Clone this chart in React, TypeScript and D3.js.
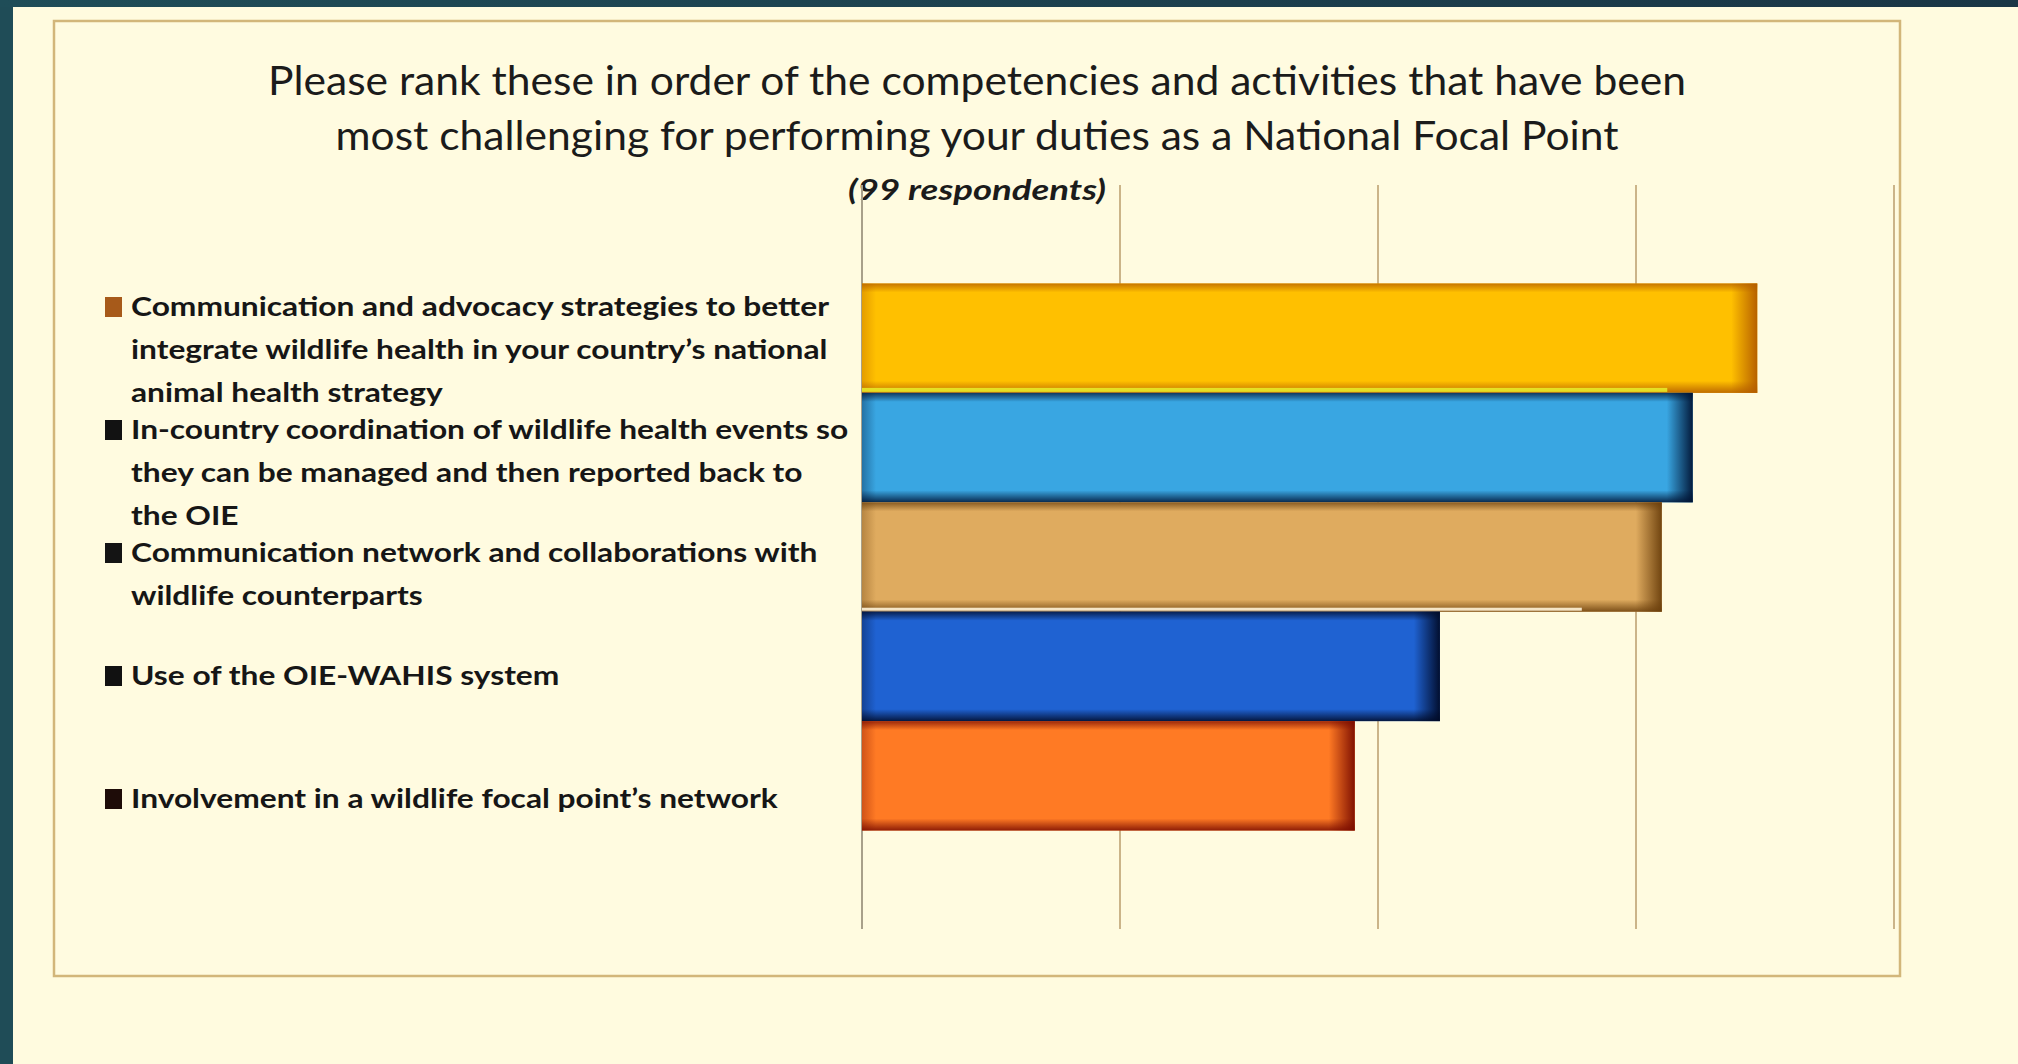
import * as React from "react";
import * as d3 from "d3";

const TITLE_LINES = [
  "Please rank these in order of the competencies and activities that have been",
  "most challenging for performing your duties as a National Focal Point",
];
const SUBTITLE = "(99 respondents)";

const CATEGORIES = [
  "Communication and advocacy strategies",
  "In-country coordination",
  "Communication network",
  "Use of the OIE-WAHIS system",
  "Involvement in a wildlife focal point's network",
];

const LEGEND_LINES = [
  [
    "Communication and advocacy strategies to better",
    "integrate wildlife health in your country\u2019s national",
    "animal health strategy",
  ],
  [
    "In-country coordination of wildlife health events so",
    "they can be managed and then reported back to",
    "the OIE",
  ],
  ["Communication network and collaborations with", "wildlife counterparts"],
  ["Use of the OIE-WAHIS system"],
  ["Involvement in a wildlife focal point\u2019s network"],
];

// bar lengths in gridline units (no tick labels in the original)
const VALUES = [3.47, 3.22, 3.1, 2.24, 1.91];
const X_TICKS = [0, 1, 2, 3, 4];

const BAR_COLORS = ["#ffc000", "#39a6e2", "#dfab5f", "#1f62d2", "#ff7a24"];
const EDGE_COLORS = ["#b35c00", "#001333", "#6b3f0c", "#000a26", "#7a0c00"];
const SWATCH_COLORS = ["#a75a1a", "#121212", "#141414", "#111111", "#1e0c08"];

const W = 2018;
const H = 1064;
const BOX = { x: 54, y: 21, w: 1846, h: 955 };
const PLOT = { left: 862, right: 1894, top: 185, bottom: 929 };

export default function App() {
  const x = d3.scaleLinear().domain([0, 4]).range([PLOT.left, PLOT.right]);
  const y = d3
    .scaleBand<string>()
    .domain(CATEGORIES)
    .range([PLOT.top, PLOT.bottom])
    .paddingInner(0)
    .paddingOuter(0.9);
  const bh = y.bandwidth();

  return (
    <svg
      width={W}
      height={H}
      style={{ position: "fixed", left: 0, top: 0 }}
      fontFamily="Lato, 'Noto Sans', sans-serif"
    >
      <defs>
        <linearGradient id="topband" x1="0" x2="1" y1="0" y2="0">
          <stop offset="0" stopColor="#1f4d58" />
          <stop offset="1" stopColor="#1a3646" />
        </linearGradient>
        {EDGE_COLORS.map((c, i) => (
          <React.Fragment key={i}>
            <linearGradient id={`top-${i}`} x1="0" x2="0" y1="0" y2="1">
              <stop offset="0" stopColor={c} stopOpacity={0.75} />
              <stop offset="1" stopColor={c} stopOpacity={0} />
            </linearGradient>
            <linearGradient id={`bot-${i}`} x1="0" x2="0" y1="0" y2="1">
              <stop offset="0" stopColor={c} stopOpacity={0} />
              <stop offset="1" stopColor={c} stopOpacity={0.85} />
            </linearGradient>
            <linearGradient id={`right-${i}`} x1="0" x2="1" y1="0" y2="0">
              <stop offset="0" stopColor={c} stopOpacity={0} />
              <stop offset="1" stopColor={c} stopOpacity={0.95} />
            </linearGradient>
            <linearGradient id={`left-${i}`} x1="0" x2="1" y1="0" y2="0">
              <stop offset="0" stopColor={c} stopOpacity={0.35} />
              <stop offset="1" stopColor={c} stopOpacity={0} />
            </linearGradient>
          </React.Fragment>
        ))}
      </defs>

      {/* slide background */}
      <rect width={W} height={H} fill="#fffbdf" />
      <rect width={13} height={H} fill="#1f4c57" />
      <rect width={W} height={7} fill="url(#topband)" />

      {/* chart frame */}
      <rect
        x={BOX.x}
        y={BOX.y}
        width={BOX.w}
        height={BOX.h}
        fill="#fffbe0"
        stroke="#d2b67a"
        strokeWidth={2.5}
      />

      {/* title */}
      {TITLE_LINES.map((line, i) => (
        <text
          key={line}
          x={977}
          y={95 + i * 55}
          textAnchor="middle"
          fontSize={40}
          fill="#1b1b1b"
          textLength={i === 0 ? 1418 : 1283}
          lengthAdjust="spacingAndGlyphs"
        >
          {line}
        </text>
      ))}
      <text
        x={977}
        y={200}
        textAnchor="middle"
        fontSize={28}
        fontStyle="italic"
        fontWeight={700}
        fill="#1b1b1b"
        textLength={258}
        lengthAdjust="spacingAndGlyphs"
      >
        {SUBTITLE}
      </text>

      {/* gridlines */}
      {X_TICKS.map((t) => (
        <line
          key={t}
          x1={x(t)}
          x2={x(t)}
          y1={PLOT.top}
          y2={PLOT.bottom}
          stroke={t === 0 ? "#a8a08a" : "#cbb489"}
          strokeWidth={2}
        />
      ))}

      {/* bars */}
      {CATEGORIES.map((cat, i) => {
        const y0 = y(cat) ?? 0;
        const x0 = x(0);
        const bw = x(VALUES[i]) - x0;
        return (
          <g key={cat}>
            <rect x={x0} y={y0} width={bw} height={bh} fill={BAR_COLORS[i]} />
            <rect x={x0} y={y0} width={14} height={bh} fill={`url(#left-${i})`} />
            <rect x={x0} y={y0} width={bw} height={9} fill={`url(#top-${i})`} />
            <rect x={x0} y={y0 + bh - 12} width={bw} height={12} fill={`url(#bot-${i})`} />
            <rect x={x0 + bw - 26} y={y0} width={26} height={bh} fill={`url(#right-${i})`} />
            {i === 0 && (
              <rect x={x0} y={y0 + bh - 5} width={bw - 90} height={4} fill="#e9f02a" opacity={0.85} />
            )}
            {i === 2 && (
              <rect x={x0} y={y0 + bh - 4} width={bw - 80} height={3} fill="#fff3d8" opacity={0.9} />
            )}
          </g>
        );
      })}

      {/* legend */}
      {LEGEND_LINES.map((lines, i) => {
        const base = 316 + i * 123;
        return (
          <g key={i}>
            <rect x={105} y={base - 19} width={17} height={20} fill={SWATCH_COLORS[i]} />
            <g transform="translate(131,0) scale(1.175,1)">
              {lines.map((line, j) => (
                <text
                  key={j}
                  x={0}
                  y={base + j * 43}
                  fontSize={27}
                  fontWeight={700}
                  fill="#161616"
                >
                  {line}
                </text>
              ))}
            </g>
          </g>
        );
      })}
    </svg>
  );
}
